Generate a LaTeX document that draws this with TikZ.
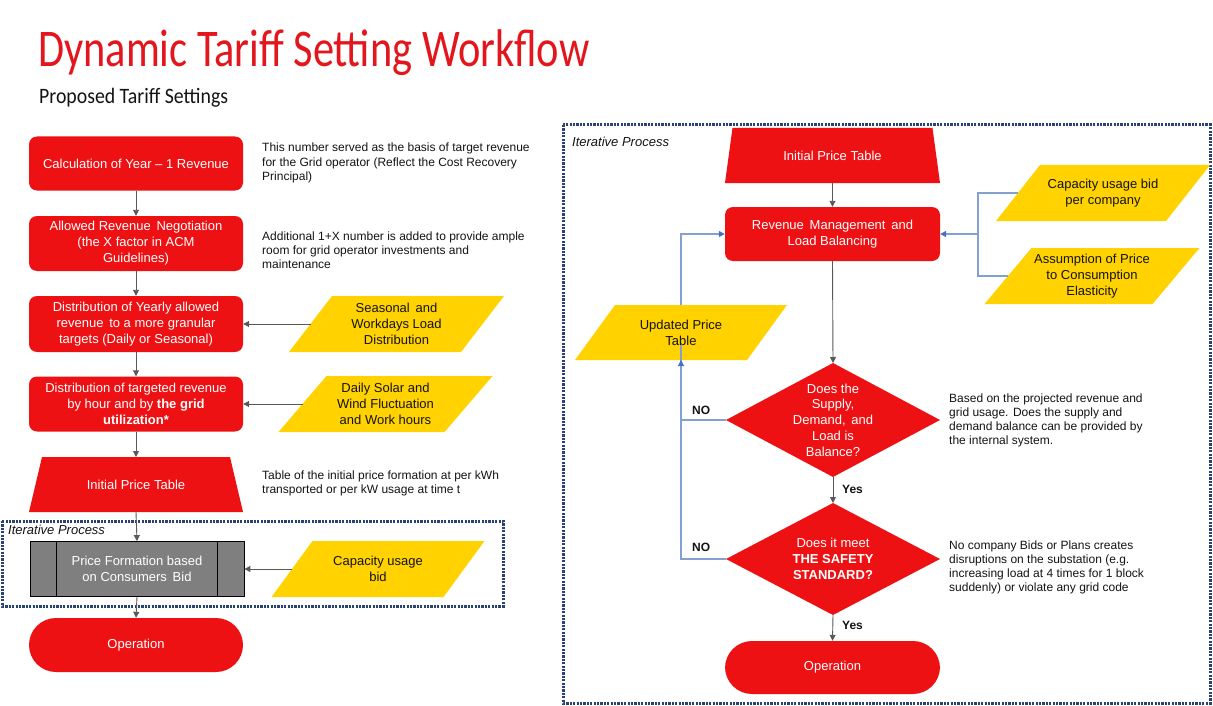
\documentclass[tikz,border=0pt]{standalone}
\usepackage{fontspec}
\setmainfont{Liberation Sans}
\newfontfamily\titlefont[FakeStretch=0.80]{Carlito}
\newfontfamily\subfont[FakeStretch=0.90]{Carlito}
\usetikzlibrary{arrows.meta}
\definecolor{myred}{RGB}{237,17,20}
\definecolor{titlered}{RGB}{226,22,28}
\definecolor{myyellow}{RGB}{255,210,0}
\definecolor{mygrey}{RGB}{127,127,127}
\definecolor{arrgrey}{RGB}{89,89,89}
\definecolor{lineblue}{RGB}{132,160,206}
\definecolor{tipblue}{RGB}{68,114,196}
\definecolor{dashblue}{RGB}{40,66,115}
\definecolor{txt}{RGB}{20,20,20}
\tikzset{
  boxtext/.style={text=white, align=center, font=\fontsize{13}{16}\selectfont, inner sep=0pt},
  redbox/.style={boxtext, fill=myred, rounded corners=8pt, minimum width=214pt, minimum height=54pt},
  stadium/.style={boxtext, fill=myred, rounded corners=27pt, minimum width=214pt, minimum height=54pt},
  greybox/.style={boxtext, fill=mygrey, draw=black, line width=0.8pt, minimum width=214pt, minimum height=55pt},
  yeltext/.style={text=txt, align=center, font=\fontsize{13}{16}\selectfont, inner sep=0pt},
  note/.style={text=txt, align=left, anchor=west, font=\fontsize{12}{14.2}\selectfont, inner sep=0pt},
  flow/.style={draw=arrgrey, line width=0.9pt, -{Triangle[length=6pt,width=6pt]}},
  bflow/.style={draw=lineblue, line width=1.2pt, -{Triangle[length=6pt,width=6pt,color=tipblue]}},
  bline/.style={draw=lineblue, line width=1.2pt},
  iterbox/.style={draw=dashblue, line width=3pt, dash pattern=on 2.2pt off 1.2pt},
  iterlabel/.style={anchor=west, font=\fontsize{13}{15}\selectfont\itshape, text=txt, inner sep=0pt},
  lbl/.style={anchor=west, font=\fontsize{12}{14}\selectfont\bfseries, text=txt, inner sep=0pt}
}
% parallelogram: name, cx, cy, w, h, skew, text
\newcommand\ypgram[7]{%
  \fill[myyellow] ({#2-#4/2+#6/2},{#3-#5/2}) -- ({#2+#4/2+#6/2},{#3-#5/2}) -- ({#2+#4/2-#6/2},{#3+#5/2}) -- ({#2-#4/2-#6/2},{#3+#5/2}) -- cycle;
  \node[yeltext] (#1) at (#2,#3) {#7};
  \coordinate (#1-w) at ({#2-#4/2},#3);
}
% trapezoid: name, cx, ytop, ybottom, top half width, bottom half width, text
\newcommand\rtrap[7]{%
  \fill[myred] ({#2-#5},#3) -- ({#2+#5},#3) -- ({#2+#6},#4) -- ({#2-#6},#4) -- cycle;
  \node[boxtext] (#1) at (#2,{(#3+#4)/2}) {#7};
  \coordinate (#1-n) at (#2,#3);
  \coordinate (#1-s) at (#2,#4);
}
% diamond: name, cx, cy, hw, hh, text
\newcommand\rdmd[6]{%
  \fill[myred] (#2,{#3-#5}) -- ({#2+#4},#3) -- (#2,{#3+#5}) -- ({#2-#4},#3) -- cycle;
  \node[boxtext, font=\fontsize{13}{15.7}\selectfont] (#1) at (#2,#3) {#6};
  \coordinate (#1-n) at (#2,{#3-#5});
  \coordinate (#1-s) at (#2,{#3+#5});
  \coordinate (#1-w) at ({#2-#4},#3);
}
\begin{document}
\begin{tikzpicture}[x=1pt,y=-1pt]
\useasboundingbox[fill=white] (0,0) rectangle (1213,706);

% titles
\node[anchor=base west, inner sep=0pt, text=titlered, font=\titlefont\fontsize{53}{60}\selectfont] (title) at (38,67) {Dynamic Tariff Setting Workflow};
\node[anchor=base west, inner sep=0pt, text=txt, font=\subfont\fontsize{22}{26}\selectfont] (subtitle) at (39,104) {Proposed Tariff Settings};

% ---------------- left column ----------------
\draw[iterbox] (2,521) rectangle (503,606);
\node[iterlabel] (itl) at (8,530) {Iterative Process};

\node[redbox] (b1) at (136,163.5) {Calculation of Year -- 1 Revenue};
\node[redbox, minimum height=55pt] (b2) at (136,243.5) {Allowed Revenue\,\ Negotiation\\(the X factor in ACM\\Guidelines)};
\node[redbox, minimum height=56pt] (b3) at (136,324) {Distribution of Yearly allowed\\revenue\, to a more granular\\targets (Daily or Seasonal)};
\node[redbox, minimum height=55pt] (b4) at (136,404) {Distribution of targeted revenue\\by hour and by \textbf{the grid}\\\textbf{utilization*}};
\rtrap{t1}{136}{457}{512}{94}{107}{Initial Price Table}
\node[greybox] (g) at (137,569) {Price Formation based\\on Consumers\, Bid};
\draw[black, line width=0.8pt] ([xshift=27pt]g.north west) -- ([xshift=27pt]g.south west);
\draw[black, line width=0.8pt] ([xshift=-27pt]g.north east) -- ([xshift=-27pt]g.south east);
\node[stadium] (op1) at (136,645) {Operation};

\ypgram{y1}{396.5}{324}{172}{56}{43}{Seasonal\, and\\Workdays Load\\Distribution}
\ypgram{y2}{385.5}{404}{166}{56}{48}{Daily Solar and\\Wind Fluctuation\\and Work hours}
\ypgram{y3}{378}{569}{172}{56}{41}{Capacity usage\\bid}

\draw[flow] (b1.south) -- (b2.north);
\draw[flow] (b2.south) -- (b3.north);
\draw[flow] (b3.south) -- (b4.north);
\draw[flow] (b4.south) -- (t1-n);
\draw[flow] (t1-s) -- (g.north);
\draw[flow] (g.south) -- (op1.north);
\draw[flow] (y1-w) -- (b3.east);
\draw[flow] (y2-w) -- (b4.east);
\draw[flow] (y3-w) -- (g.east);

\node[note] (n1) at (262,163) {This number served as the basis of target revenue\\for the Grid operator (Reflect the Cost Recovery\\Principal)};
\node[note] (n2) at (262,250.5) {Additional 1+X number is added to provide ample\\room for grid operator investments and\\maintenance};
\node[note] (n3) at (262,483.5) {Table of the initial price formation at per kWh\\transported or per kW usage at time t};

% ---------------- right column ----------------
\draw[iterbox] (563,125) rectangle (1210,703);
\node[iterlabel] (itr) at (572,142) {Iterative Process};

\rtrap{t2}{832.5}{128}{183}{100}{107.5}{Initial Price Table}
\node[redbox, minimum width=215pt] (rev) at (832.5,234) {Revenue\, Management\, and\\Load Balancing};
\rdmd{d1}{833}{420}{107}{57}{Does the\\Supply,\\Demand,\, and\\Load is\\Balance?}
\rdmd{d2}{833}{559}{107}{56}{Does it meet\\\textbf{THE SAFETY}\\\textbf{STANDARD?}}
\node[stadium, minimum width=215pt, minimum height=53pt] (op2) at (832.5,667.5) {Operation};

\ypgram{y4}{1103}{193}{170}{56}{44}{Capacity usage bid\\per company}
\ypgram{y5}{1092}{276}{168}{56}{47}{Assumption of Price\\to Consumption\\Elasticity}
\ypgram{y6}{681}{332.5}{172}{55}{40}{Updated Price\\Table}

\draw[flow] (t2-s) -- (rev.north);
\draw[flow] (rev.south) -- (d1-n);
\draw[flow] (d1-s) -- (d2-n);
\draw[flow] (d2-s) -- (op2.north);

\coordinate (j) at (978,234);
\draw[bline] (y4-w) -| (j);
\draw[bline] (y5-w) -| (j);
\draw[bflow] (j) -- (rev.east);

\draw[bline] (d1-w) -| (y6.south);
\draw[bflow] (d2-w) -| ([yshift=-27.5pt]y6.center);
\draw[bflow] ([yshift=27.5pt]y6.center) |- (rev.west);

\node[lbl] (no1) at (692,410) {NO};
\node[lbl] (no2) at (692,547) {NO};
\node[lbl] (yes1) at (842,489) {Yes};
\node[lbl] (yes2) at (842,625) {Yes};

\node[note] (n4) at (949,420.5) {Based on the projected revenue and\\grid usage. Does the supply and\\demand balance can be provided by\\the internal system.};
\node[note] (n5) at (949,567.5) {No company Bids or Plans creates\\disruptions on the substation (e.g.\\increasing load at 4 times for 1 block\\suddenly) or violate any grid code};
\end{tikzpicture}
\end{document}
